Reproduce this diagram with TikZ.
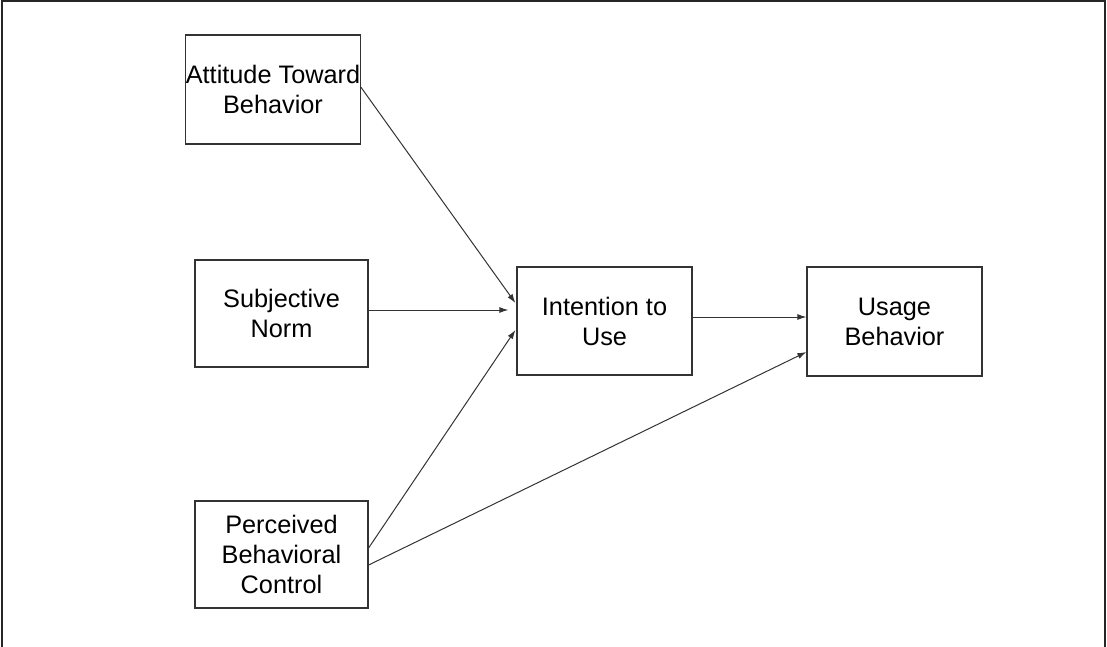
\documentclass[tikz,border=0pt]{standalone}
\usepackage{fontspec}
\setmainfont{Liberation Sans}
\usetikzlibrary{arrows.meta}
\begin{document}
\begin{tikzpicture}[x=1pt,y=-1pt,
  box/.style={draw=black!80, line width=1.2pt, rectangle, inner sep=0pt, align=center,
    font=\fontsize{25.3}{30}\selectfont},
  conn/.style={draw=black!80, line width=1pt, -{Latex[length=9pt,width=6pt]}},
  frame/.style={draw=black!85, line width=2pt}]
\useasboundingbox (0,0) rectangle (1107,647);
\draw[frame] (1.5,647) -- (1.5,1.5) -- (1104.5,1.5) -- (1104.5,647);
\node[box, minimum width=174pt, minimum height=109pt] (att) at (273,89.5) {Attitude Toward\\Behavior};
\node[box, minimum width=173pt, minimum height=107pt] (sn) at (281.5,313.5) {Subjective\\Norm};
\node[box, minimum width=173pt, minimum height=107pt] (pbc) at (281.5,554.5) {Perceived\\Behavioral\\Control};
\node[box, minimum width=175pt, minimum height=108pt] (int) at (604.5,321) {Intention to\\Use};
\node[box, minimum width=175pt, minimum height=109pt] (use) at (894.5,321.5) {Usage\\Behavior};
\draw[conn] ([yshift=2.5pt]att.east) -- ([yshift=18pt,xshift=-1pt]int.west);
\draw[conn, shorten >=8pt] ([yshift=3.5pt]sn.east) -- ([yshift=11pt]int.west);
\draw[conn] ([yshift=4pt]int.east) -- ([yshift=4.5pt]use.west);
\draw[conn] ([yshift=6.5pt]pbc.east) -- ([yshift=-9pt,xshift=-1pt]int.west);
\draw[conn] ([yshift=-10.5pt]pbc.east) -- ([yshift=-30.5pt]use.west);
\end{tikzpicture}
\end{document}
